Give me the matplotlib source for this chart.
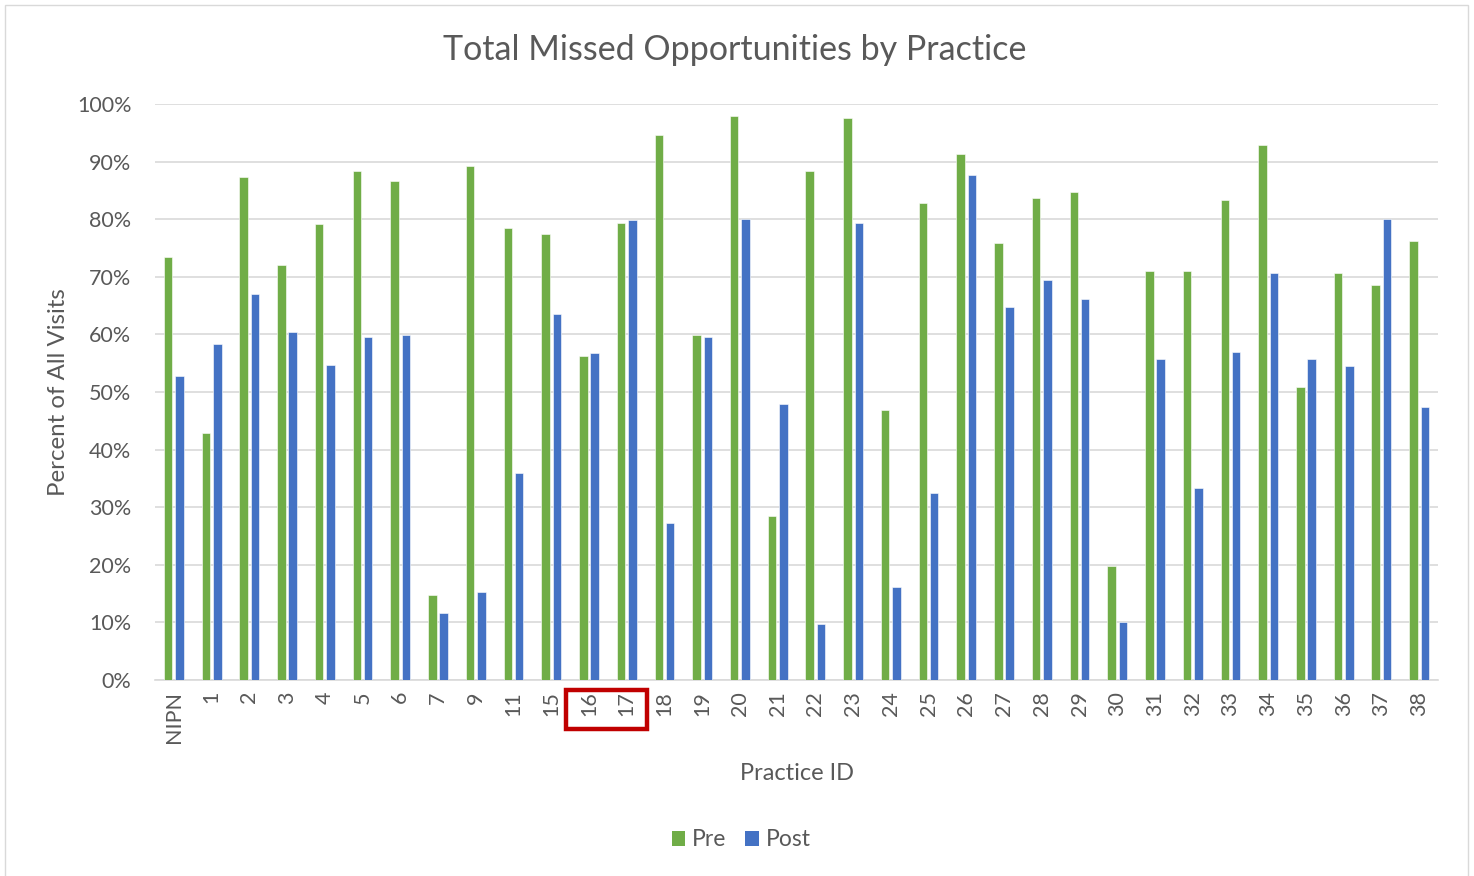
import matplotlib
matplotlib.use("Agg")
import matplotlib.pyplot as plt
import numpy as np
from matplotlib.patches import Patch, Rectangle

plt.rcParams['font.family'] = ['Lato', 'DejaVu Sans']

categories = ["NIPN", "1", "2", "3", "4", "5", "6", "7", "9", "11", "15", "16", "17",
              "18", "19", "20", "21", "22", "23", "24", "25", "26", "27", "28", "29",
              "30", "31", "32", "33", "34", "35", "36", "37", "38"]
pre = [73.4, 42.8, 87.4, 72.0, 79.2, 88.4, 86.6, 14.8, 89.2, 78.5, 77.4, 56.2, 79.4,
       94.7, 59.9, 97.9, 28.5, 88.4, 97.6, 46.9, 82.8, 91.3, 75.8, 83.6, 84.8,
       19.8, 71.0, 71.0, 83.4, 92.9, 50.9, 70.7, 68.6, 76.2]
post = [52.7, 58.3, 67.0, 60.5, 54.7, 59.5, 59.9, 11.6, 15.3, 35.9, 63.6, 56.7, 79.8,
        27.2, 59.6, 80.0, 48.0, 9.7, 79.3, 16.2, 32.4, 87.7, 64.8, 69.4, 66.2,
        10.0, 55.7, 33.3, 56.9, 70.6, 55.7, 54.5, 80.0, 47.4]
yticks = [0, 10, 20, 30, 40, 50, 60, 70, 80, 90, 100]

GREEN = "#70AD47"
BLUE = "#4472C4"
TXT = "#595959"
W, H = 1474, 876

fig = plt.figure(figsize=(W / 100, H / 100), dpi=100)
fig.patches.append(Rectangle((5 / W, -0.01), (1468 - 5) / W, 1 - 5 / H + 0.01,
                             transform=fig.transFigure, fill=False,
                             edgecolor="#D9D9D9", linewidth=1))

ax = fig.add_axes([155 / W, (H - 680) / H, (1438 - 155) / W, (680 - 104) / H])
x = np.arange(len(categories))
bw = 0.225
ax.bar(x - 0.15, pre, width=bw, color=GREEN, edgecolor="white", linewidth=0.4, zorder=3)
ax.bar(x + 0.15, post, width=bw, color=BLUE, edgecolor="white", linewidth=0.4, zorder=3)

ax.set_xlim(-0.5, len(categories) - 0.5)
ax.set_ylim(0, 100)
ax.set_yticks(yticks)
ax.set_yticklabels([f"{v}%" for v in yticks])
ax.set_xticks(x)
ax.set_xticklabels(categories, rotation=90)
ax.grid(axis="y", color="#D9D9D9", linewidth=1.2, zorder=0)
ax.set_axisbelow(True)
for s in ["top", "right", "left"]:
    ax.spines[s].set_visible(False)
ax.spines["bottom"].set_color("#D9D9D9")
ax.spines["bottom"].set_linewidth(1.2)
ax.tick_params(axis="both", length=0, labelsize=15.5, labelcolor=TXT)
ax.tick_params(axis="y", pad=17)
ax.tick_params(axis="x", pad=8)

ax.set_ylabel("Percent of All Visits", fontsize=17.3, color=TXT, labelpad=6)
ax.set_xlabel("Practice ID", fontsize=17, color=TXT, labelpad=14)
fig.text(735 / W, 1 - 50 / H, "Total Missed Opportunities by Practice",
         ha="center", va="center", fontsize=24.5, color=TXT)

handles = [Patch(facecolor=GREEN, label="Pre"), Patch(facecolor=BLUE, label="Post")]
fig.legend(handles=handles, loc="center", bbox_to_anchor=(741 / W, 1 - 840 / H),
           ncol=2, frameon=False, fontsize=16.5, handlelength=0.6, handleheight=0.6,
           handletextpad=0.3, columnspacing=0.8, labelcolor=TXT)

# red highlight box around the 16 / 17 labels
fig.patches.append(Rectangle((566 / W, 1 - 729 / H), (647 - 566) / W, (729 - 690) / H,
                             transform=fig.transFigure, fill=False,
                             edgecolor="#C00000", linewidth=3.2))

fig.savefig("out.png", dpi=100)
